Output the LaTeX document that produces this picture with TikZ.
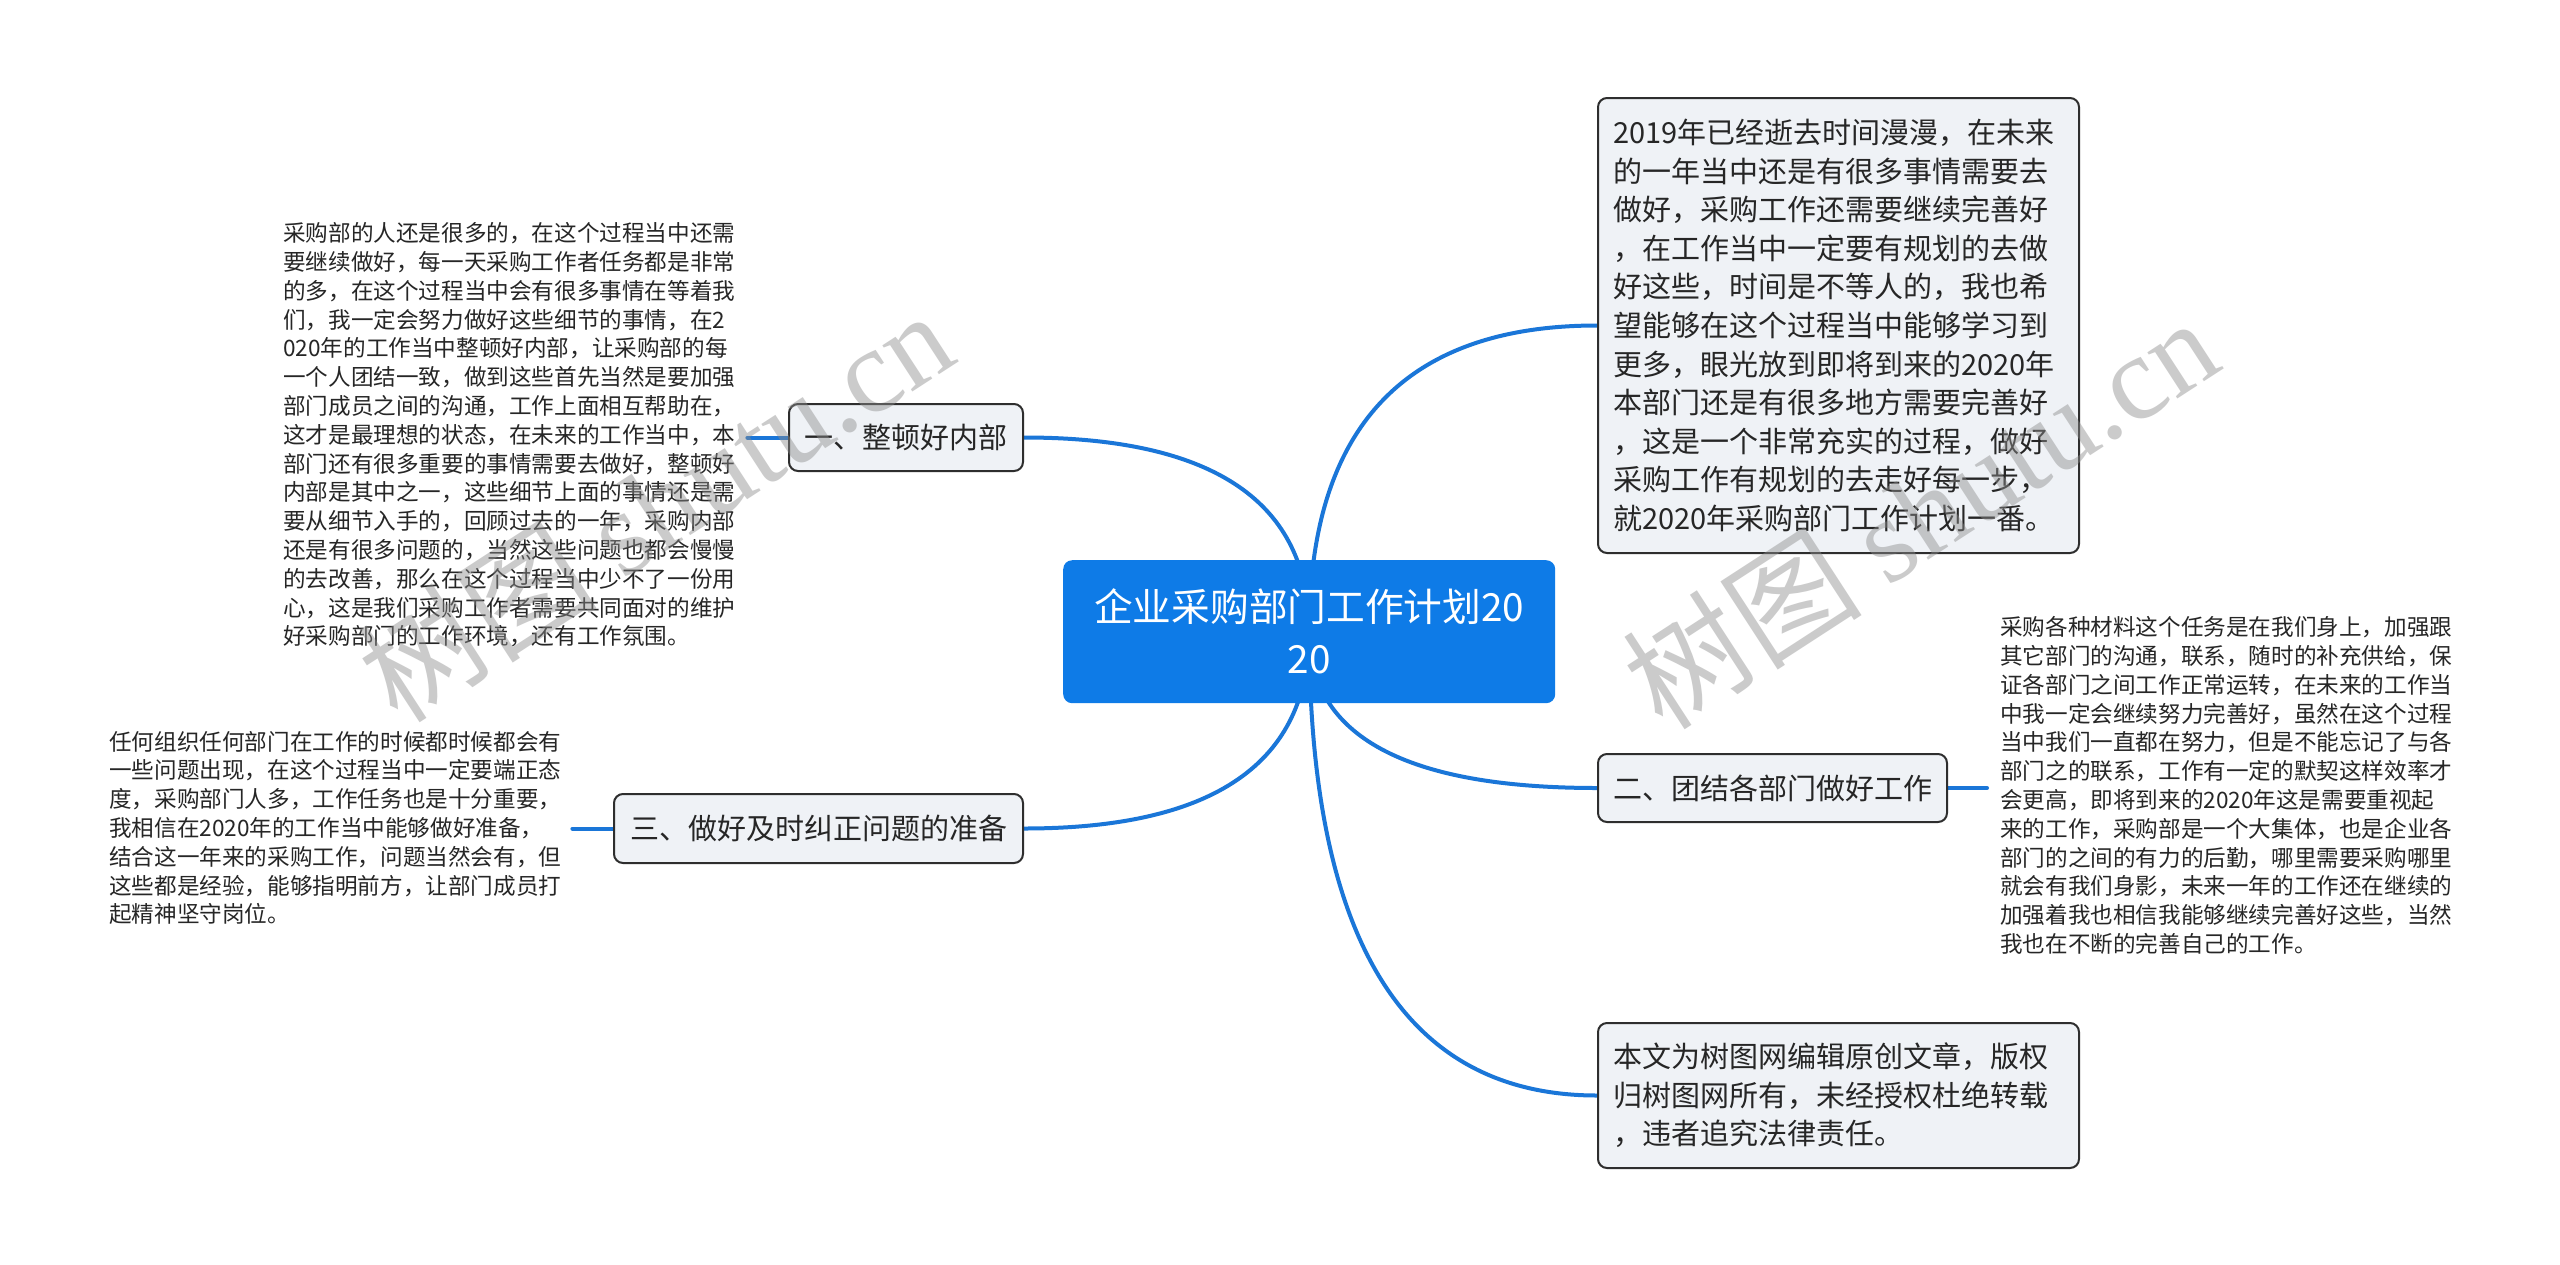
\documentclass[tikz,border=0pt]{standalone}
\usepackage{fontspec}
\setmainfont{Noto Sans CJK SC}
\newfontfamily\wmfont{Liberation Serif}
\usetikzlibrary{calc}
\definecolor{rootblue}{HTML}{0E7BE7}
\definecolor{linkblue}{HTML}{1A76D8}
\definecolor{boxfill}{HTML}{EFF2F6}
\definecolor{boxline}{HTML}{2E2E2E}
\definecolor{txt}{HTML}{262626}
\definecolor{wmgray}{HTML}{8C8C8C}
\pgfdeclarelayer{paperlayer}
\pgfdeclarelayer{bglayer}
\pgfdeclarelayer{fglayer}
\pgfsetlayers{paperlayer,bglayer,main,fglayer}
\newcommand{\mmlink}[2]{%
  \coordinate (mmq) at (#1.center |- #2);
  \draw[conn] (#1.center) .. controls ($(#1.center)!0.667!(mmq)$) and ($(#2)!0.667!(mmq)$) .. (#2);}
\tikzset{
  conn/.style={draw=linkblue, line width=4pt, line cap=round},
  boxnode/.style={draw=boxline, line width=2pt, fill=boxfill, rounded corners=9pt, text=txt, inner sep=0pt, anchor=north west},
  rootnode/.style={fill=rootblue, rounded corners=9pt, text=white, inner sep=0pt, anchor=north west, align=center, font=\fontsize{38.7}{52}\selectfont},
  bigtext/.style={font=\fontsize{29}{38.6}\selectfont},
  smalltext/.style={text=txt, inner sep=0pt, anchor=west, align=left, font=\fontsize{22.6}{28.8}\selectfont},
  wmark/.style={text=wmgray, opacity=0.45, inner sep=0pt, font=\fontsize{120}{120}\selectfont}
}
\begin{document}
\begin{tikzpicture}[x=1pt,y=-1pt]
\begin{pgfonlayer}{paperlayer}
\fill[white] (0,0) rectangle (2560,1264);
\end{pgfonlayer}
\useasboundingbox (0,0) rectangle (2560,1264);

% root
\node[rootnode, minimum width=492pt, minimum height=143pt] (root) at (1063,560) {企业采购部门工作计划20\\20};

% right side
\node[boxnode, bigtext, minimum width=481pt, minimum height=455pt, text width=451pt, align=left] (tr) at (1597,97) {2019年已经逝去时间漫漫，在未来\\的一年当中还是有很多事情需要去\\做好，采购工作还需要继续完善好\\，在工作当中一定要有规划的去做\\好这些，时间是不等人的，我也希\\望能够在这个过程当中能够学习到\\更多，眼光放到即将到来的2020年\\本部门还是有很多地方需要完善好\\，这是一个非常充实的过程，做好\\采购工作有规划的去走好每一步，\\就2020年采购部门工作计划一番。};

\node[boxnode, bigtext, minimum width=349pt, minimum height=68pt] (b2) at (1597,753) {二、团结各部门做好工作};

\node[smalltext] (t3) at (2000,785.5) {采购各种材料这个任务是在我们身上，加强跟\\其它部门的沟通，联系，随时的补充供给，保\\证各部门之间工作正常运转，在未来的工作当\\中我一定会继续努力完善好，虽然在这个过程\\当中我们一直都在努力，但是不能忘记了与各\\部门之的联系，工作有一定的默契这样效率才\\会更高，即将到来的2020年这是需要重视起\\来的工作，采购部是一个大集体，也是企业各\\部门的之间的有力的后勤，哪里需要采购哪里\\就会有我们身影，未来一年的工作还在继续的\\加强着我也相信我能够继续完善好这些，当然\\我也在不断的完善自己的工作。};

\node[boxnode, bigtext, minimum width=481pt, minimum height=145pt, text width=451pt, align=left] (br) at (1597,1022) {本文为树图网编辑原创文章，版权\\归树图网所有，未经授权杜绝转载\\，违者追究法律责任。};

% left side
\node[boxnode, bigtext, minimum width=234pt, minimum height=67pt] (b1) at (788,403) {一、整顿好内部};

\node[smalltext] (t1) at (283,435) {采购部的人还是很多的，在这个过程当中还需\\要继续做好，每一天采购工作者任务都是非常\\的多，在这个过程当中会有很多事情在等着我\\们，我一定会努力做好这些细节的事情，在2\\020年的工作当中整顿好内部，让采购部的每\\一个人团结一致，做到这些首先当然是要加强\\部门成员之间的沟通，工作上面相互帮助在，\\这才是最理想的状态，在未来的工作当中，本\\部门还有很多重要的事情需要去做好，整顿好\\内部是其中之一，这些细节上面的事情还是需\\要从细节入手的，回顾过去的一年，采购内部\\还是有很多问题的，当然这些问题也都会慢慢\\的去改善，那么在这个过程当中少不了一份用\\心，这是我们采购工作者需要共同面对的维护\\好采购部门的工作环境，还有工作氛围。};

\node[boxnode, bigtext, minimum width=409pt, minimum height=69pt] (b3) at (613,793) {三、做好及时纠正问题的准备};

\node[smalltext] (t2) at (109,828) {任何组织任何部门在工作的时候都时候都会有\\一些问题出现，在这个过程当中一定要端正态\\度，采购部门人多，工作任务也是十分重要，\\我相信在2020年的工作当中能够做好准备，\\结合这一年来的采购工作，问题当然会有，但\\这些都是经验，能够指明前方，让部门成员打\\起精神坚守岗位。};

% connectors
\begin{pgfonlayer}{bglayer}
\mmlink{root}{tr.west}
\mmlink{root}{b2.west}
\mmlink{root}{br.west}
\mmlink{root}{b1.east}
\mmlink{root}{b3.east}
\draw[conn] ([xshift=12pt]t1.east |- b1.west) -- (b1.west);
\draw[conn] ([xshift=11pt]t2.east |- b3.west) -- (b3.west);
\draw[conn] (b2.east) -- ([xshift=-13pt]t3.west |- b2.east);
\end{pgfonlayer}

% watermarks
\begin{pgfonlayer}{fglayer}
\node[wmark, rotate=33] (wm1) at (655,505) {树图 {\wmfont shutu.cn}};
\node[wmark, rotate=33] (wm2) at (1920,512) {树图 {\wmfont shutu.cn}};
\end{pgfonlayer}
\end{tikzpicture}
\end{document}
